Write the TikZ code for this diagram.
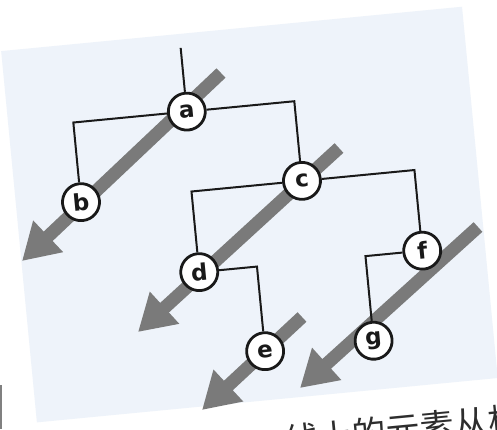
\documentclass[tikz,border=0pt]{standalone}
\usepackage{fontspec}
\newfontfamily\labfont{DejaVu Sans}
\newfontfamily\cjk{Noto Sans CJK SC}
\usetikzlibrary{arrows.meta}
\definecolor{pagebg}{RGB}{238,243,250}
\definecolor{agray}{RGB}{122,122,122}
\definecolor{inkc}{RGB}{25,25,25}
\definecolor{textc}{RGB}{45,45,45}
\tikzset{
  tnode/.style={circle,draw=inkc,line width=2.8pt,fill=white,minimum size=37pt,inner sep=0pt,font=\labfont\bfseries\fontsize{23}{23}\selectfont,text=inkc},
  edge/.style={draw=inkc,line width=2pt},
  garrow/.style={draw=agray,line width=13pt,line cap=butt,-{Triangle[length=36pt,width=41pt]}}
}
\begin{document}
\begin{tikzpicture}[x=1pt,y=-1pt]
\useasboundingbox (0,0) rectangle (497,429);
\clip (0,0) rectangle (497,429);
\fill[white] (0,0) rectangle (497,429);
\draw[gray,line width=2pt] (1,385) -- (1,429);
\begin{scope}[transform canvas={rotate around={5.5:(250,215)}}]
  \fill[pagebg] (18,28) rectangle (481,401);
  \node[anchor=base west,inner sep=0pt,text=textc,font=\cjk\fontsize{34}{40}\selectfont] (cap) at (263,456) {线上的元素从根};
\end{scope}
% diagonal arrows
\coordinate (t1) at (221,73);  \coordinate (h1) at (22,261);
\coordinate (t2) at (339,148); \coordinate (h2) at (138,332);
\coordinate (t3) at (478,227); \coordinate (h3) at (300,388);
\coordinate (t4) at (302,317); \coordinate (h4) at (202,410);
\draw[garrow] (t1) -- (h1);
\draw[garrow] (t2) -- (h2);
\draw[garrow] (t3) -- (h3);
\draw[garrow] (t4) -- (h4);
\begin{scope}[transform canvas={rotate around={5.5:(250,215)}}]
  \coordinate (root) at (197,42);
  \node[tnode] (a) at (197,106) {a};
  \node[tnode] (b) at (83,186) {b};
  \node[tnode] (c) at (305,186) {c};
  \node[tnode] (d) at (194,267) {d};
  \node[tnode] (f) at (418,267) {f};
  \node[tnode] (e) at (252,352) {e};
  \node[tnode] (g) at (361,352) {g};
  \draw[edge] (root) -- (a);
  \draw[edge] (a) -| (b);
  \draw[edge] (a) -| (c);
  \draw[edge] (c) -| (d);
  \draw[edge] (c) -| (f);
  \draw[edge] (d) -| (e);
  \draw[edge] (f) -| (g);
\end{scope}
\end{tikzpicture}
\end{document}
